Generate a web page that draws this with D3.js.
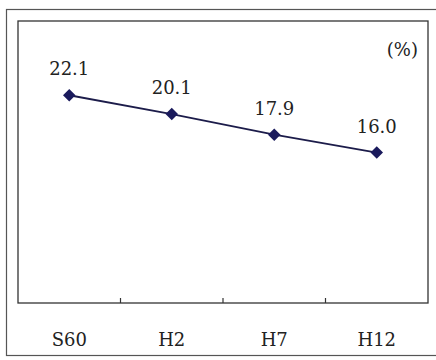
<!DOCTYPE html>
<html>
<head>
<meta charset="utf-8">
<script src="https://cdn.jsdelivr.net/npm/d3@7"></script>
<style>
    body { margin: 0; background: #fff; }
    text { font-family: "DejaVu Serif", "Liberation Serif", serif; }
</style>
</head>
<body>
<div id="chart"></div>
<script>
// data
const categories = ["S60", "H2", "H7", "H12"];
const values = [22.1, 20.1, 17.9, 16.0];
const unitLabel = "(%)";

const W = 436, H = 360;
const margin = {top: 21, right: 8, bottom: 57, left: 18};
const width = W - margin.left - margin.right;
const height = H - margin.top - margin.bottom;

const svg = d3.select("#chart").append("svg")
    .attr("width", W)
    .attr("height", H);

// outer frame
svg.append("rect")
    .attr("x", 6.5).attr("y", 9.5)
    .attr("width", 440).attr("height", 346)
    .attr("fill", "none")
    .attr("stroke", "#555")
    .attr("stroke-width", 1.2);

const g = svg.append("g")
    .attr("transform", `translate(${margin.left}, ${margin.top})`);

const x = d3.scaleBand()
    .domain(categories)
    .range([0, width]);

const y = d3.scaleLinear()
    .domain([0, 30])
    .range([height, 0]);

// plot frame
g.append("rect")
    .attr("x", 0).attr("y", 0)
    .attr("width", width).attr("height", height)
    .attr("fill", "none")
    .attr("stroke", "#333")
    .attr("stroke-width", 1.3);

// ticks between categories
g.selectAll(".tick-mark")
    .data(categories.slice(1))
    .enter().append("line")
    .attr("class", "tick-mark")
    .attr("x1", d => x(d)).attr("x2", d => x(d))
    .attr("y1", height).attr("y2", height - 5)
    .attr("stroke", "#333")
    .attr("stroke-width", 1.2);

// category labels
g.selectAll(".cat-label")
    .data(categories)
    .enter().append("text")
    .attr("class", "cat-label")
    .attr("x", d => x(d) + x.bandwidth() / 2)
    .attr("y", height + 43)
    .attr("text-anchor", "middle")
    .attr("font-size", 18)
    .attr("fill", "#222")
    .text(d => d);

const pts = categories.map((c, i) => ({cat: c, v: values[i]}));

const line = d3.line()
    .x(d => x(d.cat) + x.bandwidth() / 2)
    .y(d => y(d.v));

g.append("path")
    .datum(pts)
    .attr("d", line)
    .attr("fill", "none")
    .attr("stroke", "#1c1c4a")
    .attr("stroke-width", 1.8);

g.selectAll(".marker")
    .data(pts)
    .enter().append("path")
    .attr("class", "marker")
    .attr("d", d3.symbol().type(d3.symbolDiamond2).size(100))
    .attr("transform", d => `translate(${x(d.cat) + x.bandwidth() / 2}, ${y(d.v)})`)
    .attr("fill", "#1a1a5c");

g.selectAll(".val-label")
    .data(pts)
    .enter().append("text")
    .attr("class", "val-label")
    .attr("x", d => x(d.cat) + x.bandwidth() / 2)
    .attr("y", d => y(d.v) - 20)
    .attr("text-anchor", "middle")
    .attr("font-size", 18)
    .attr("fill", "#222")
    .text(d => d.v.toFixed(1));

// unit
g.append("text")
    .attr("x", width - 10)
    .attr("y", 35)
    .attr("text-anchor", "end")
    .attr("font-size", 18)
    .attr("fill", "#222")
    .text(unitLabel);
</script>
</body>
</html>
